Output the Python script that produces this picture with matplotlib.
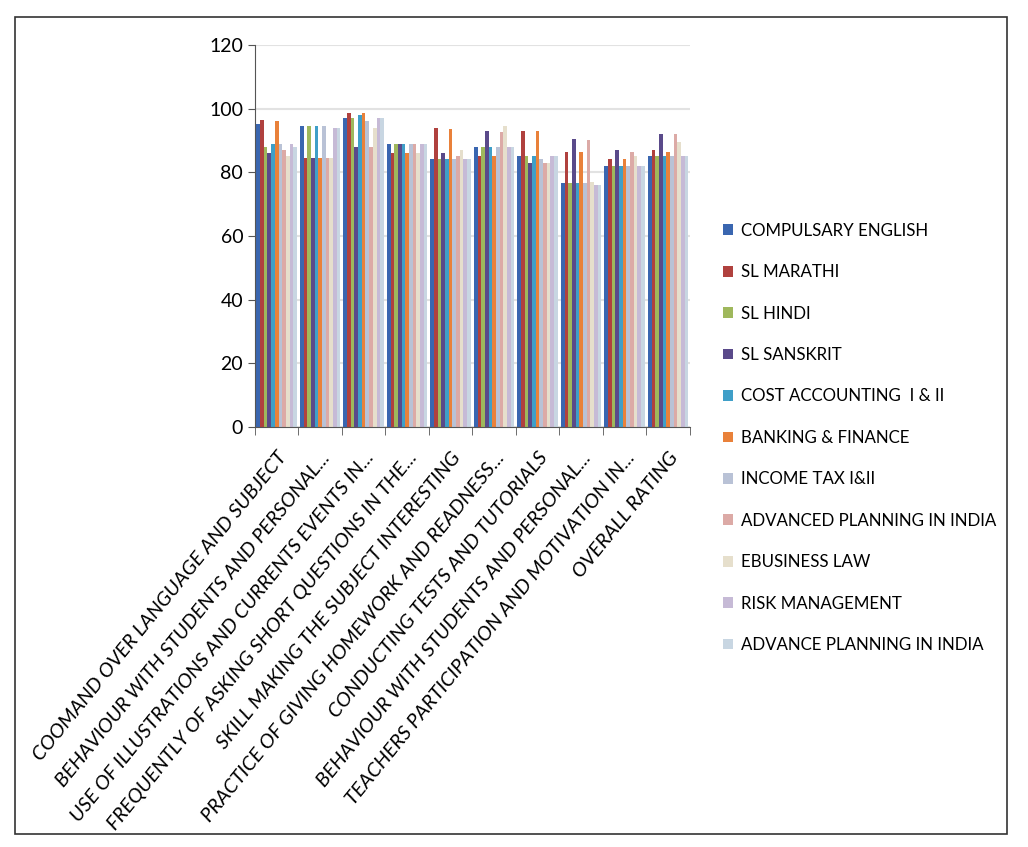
import numpy as np
import matplotlib.pyplot as plt
from matplotlib.patches import Rectangle

plt.rcParams['font.family'] = ['Lato', 'DejaVu Sans']

categories = ["COOMAND OVER LANGUAGE AND SUBJECT",
              "BEHAVIOUR WITH STUDENTS AND PERSONAL...",
              "USE OF ILLUSTRATIONS AND CURRENTS EVENTS IN...",
              "FREQUENTLY OF ASKING SHORT QUESTIONS IN THE...",
              "SKILL MAKING THE SUBJECT INTERESTING",
              "PRACTICE OF GIVING HOMEWORK AND READNESS...",
              "CONDUCTING TESTS AND TUTORIALS",
              "BEHAVIOUR WITH STUDENTS AND PERSONAL...",
              "TEACHERS PARTICIPATION AND MOTIVATION IN...",
              "OVERALL RATING"]

subjects = ["COMPULSARY ENGLISH", "SL MARATHI", "SL HINDI", "SL SANSKRIT",
            "COST ACCOUNTING  I & II", "BANKING & FINANCE", "INCOME TAX I&II",
            "ADVANCED PLANNING IN INDIA", "EBUSINESS LAW", "RISK MANAGEMENT",
            "ADVANCE PLANNING IN INDIA"]

# one row per category, one column per subject
scores = [
    [95, 96.5, 88, 86, 89, 96, 89, 87, 85, 89, 88],
    [94.5, 84.5, 94.5, 84.5, 94.5, 84.5, 94.5, 84.5, 84.5, 94, 94],
    [97, 98.5, 97, 88, 98, 98.5, 96, 88, 94, 97, 97],
    [89, 86, 89, 89, 89, 86, 89, 89, 86, 89, 89],
    [84, 94, 84, 86, 84, 93.5, 84, 85, 87, 84, 84],
    [88, 85, 88, 93, 88, 85, 88, 92.5, 94.5, 88, 88],
    [85, 93, 85, 83, 85, 93, 84, 83, 83, 85, 85],
    [76.5, 86.5, 76.5, 90.5, 76.5, 86.5, 76.5, 90, 77, 76, 76],
    [82, 84, 82, 87, 82, 84, 82, 86.5, 85, 82, 82],
    [85, 87, 85, 92, 85, 86.5, 85, 92, 89.5, 85, 85],
]

colors = ["#3a66b0", "#b0413e", "#9fb85c", "#5a4a8a", "#3f9fc8", "#e9813a",
          "#b9c2d6", "#dcaaa6", "#e6dfcc", "#c6bad6", "#c8d6e2"]

data = np.array(scores)
n_cat, n_ser = data.shape
x = np.arange(n_cat)
width = 0.93 / n_ser

fig = plt.figure(figsize=(10.28, 8.47), dpi=100)
ax = fig.add_axes([0.248, 0.496, 0.423, 0.451])

for j in range(n_ser):
    ax.bar(x - 0.465 + width * (j + 0.5), data[:, j], width,
           color=colors[j], label=subjects[j], linewidth=0)

ax.set_ylim(0, 120)
ax.set_yticks(range(0, 121, 20))
ax.set_xlim(-0.5, n_cat - 0.5)
ax.yaxis.grid(True, color="#e2e2e2", linewidth=1.5)
ax.set_axisbelow(True)

ax.set_xticks(x)
ax.set_xticklabels(categories, rotation=51, ha="right", rotation_mode="anchor",
                   fontsize=14.5, fontstyle="italic")
ax.set_xticks(np.arange(-0.5, n_cat, 1), minor=True)
ax.tick_params(axis="x", which="major", length=0, pad=16)
ax.tick_params(axis="x", which="minor", length=6, color="#555555")
ax.tick_params(axis="y", labelsize=14, length=5, color="#555555")

for side in ["top", "right"]:
    ax.spines[side].set_visible(False)
ax.spines["left"].set_color("#555555")
ax.spines["bottom"].set_color("#555555")

ax.legend(loc="center left", bbox_to_anchor=(0.688, 0.483),
          bbox_transform=fig.transFigure, frameon=False, fontsize=12.2,
          handlelength=0.6, handleheight=0.6, handletextpad=0.5,
          labelspacing=1.5)

fig.patches.append(Rectangle((0.015, 0.015), 0.965, 0.965, transform=fig.transFigure,
                             fill=False, edgecolor="#333333", linewidth=1.2))

fig.savefig("out.png", dpi=100)
